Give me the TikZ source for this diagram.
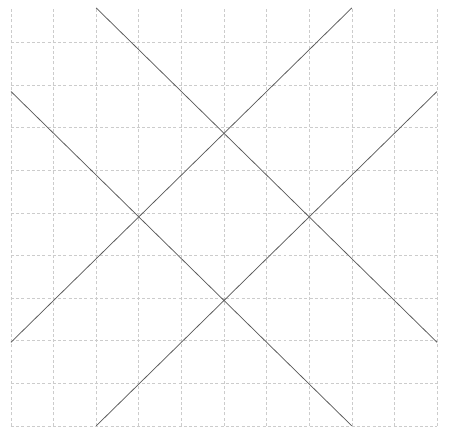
\documentclass[tikz,border=0pt]{standalone}
\usepackage{tikz}

\begin{document}
\begin{tikzpicture}[x=1cm, y=0.981cm,
  gridline/.style={gray!40, dash pattern=on 2pt off 1.5pt, line width=0.4pt},
  diagline/.style={black!65, line width=0.5pt}]
  \useasboundingbox (-0.258, -0.215) rectangle (10.305, 10.19);
  \draw[gridline] (0.00, 0.00) grid (10.00, 10.00);
  \draw[diagline] (2.00, 10.00) -- (10.00, 2.00);
  \draw[diagline] (0.00, 8.00) -- (8.00, 0.00);
  \draw[diagline] (0.00, 2.00) -- (8.00, 10.00);
  \draw[diagline] (2.00, 0.00) -- (10.00, 8.00);
\end{tikzpicture}
\end{document}
